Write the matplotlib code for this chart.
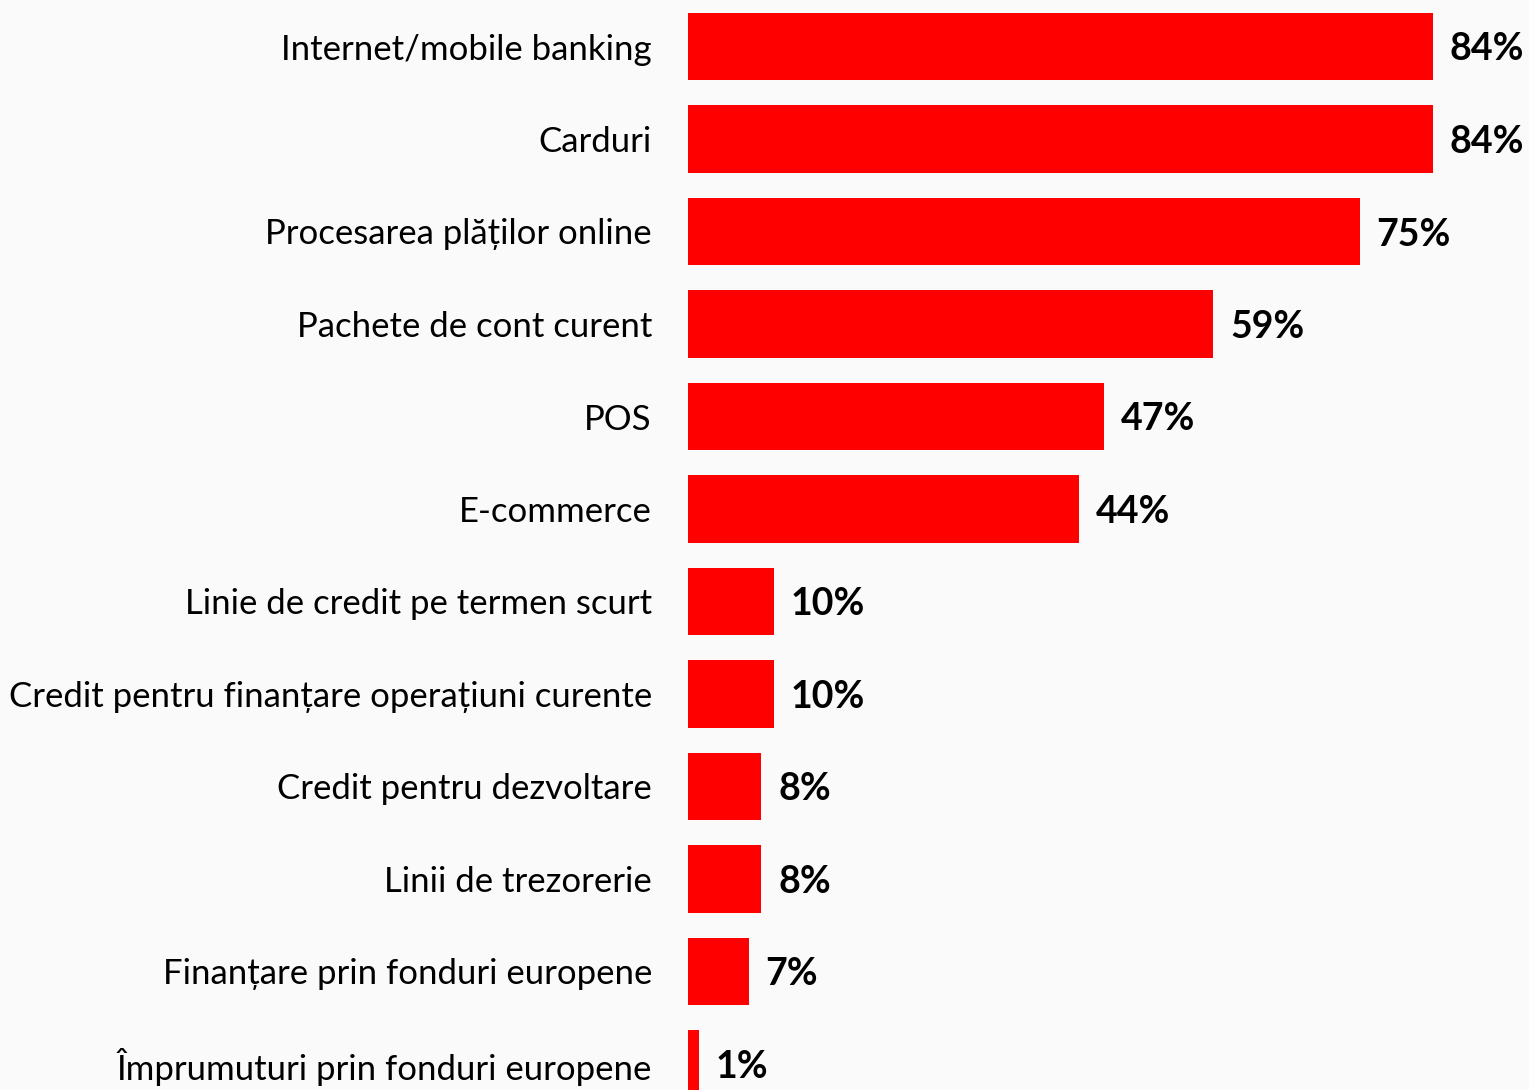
import matplotlib.pyplot as plt

# categories, top to bottom
categories = [
    'Internet/mobile banking',
    'Carduri',
    'Procesarea plăților online',
    'Pachete de cont curent',
    'POS',
    'E-commerce',
    'Linie de credit pe termen scurt',
    'Credit pentru finanțare operațiuni curente',
    'Credit pentru dezvoltare',
    'Linii de trezorerie',
    'Finanțare prin fonduri europene',
    'Împrumuturi prin fonduri europene',
]
# share of respondents (%)
values = [83.5, 83.5, 75.3, 58.9, 46.6, 43.8, 9.6, 9.6, 8.2, 8.2, 6.8, 1.2]

W, H = 1529, 1090
fig = plt.figure(figsize=(W / 100, H / 100), dpi=100)
fig.patch.set_facecolor('#fafafa')

# axes start where the bars start (x=688 px) and fill the height
ax = fig.add_axes([688 / W, 0, 1 - 688 / W, 1])
ax.set_facecolor('#fafafa')

ypos = list(range(len(categories)))
ax.barh(ypos, values, height=0.725, color='#ff0000')

# 8.92 px per percent, bar centres 92.5 px apart starting at 46.5 px
ax.set_xlim(0, (W - 688) / 8.92)
ax.set_ylim((H - 46.5) / 92.5, -46.5 / 92.5)

for y, v in zip(ypos, values):
    ax.annotate(f'{round(v)}%', xy=(v, y), xytext=(17, -3), textcoords='offset pixels',
                ha='left', va='center', fontsize=27, fontweight='bold',
                family=['Lato', 'DejaVu Sans'], color='black')

ax.set_yticks(ypos)
ax.set_yticklabels(categories, fontsize=25, family=['Lato', 'DejaVu Sans'])
ax.tick_params(axis='y', length=0, pad=26)
ax.set_xticks([])
for s in ax.spines.values():
    s.set_visible(False)

fig.savefig('out.png', dpi=100, facecolor=fig.get_facecolor())
